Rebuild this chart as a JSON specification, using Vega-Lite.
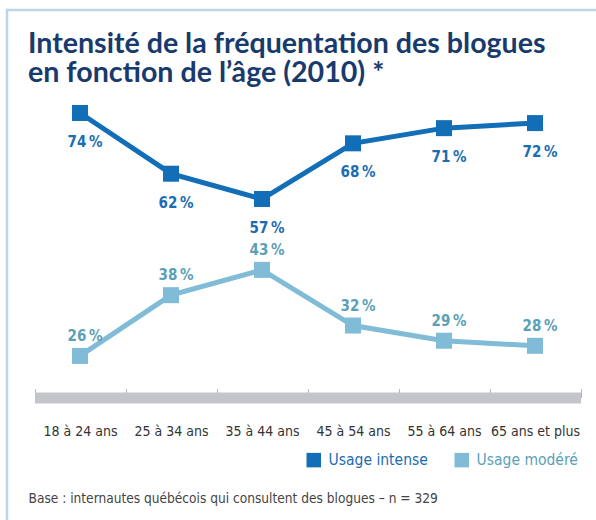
{
  "$schema": "https://vega.github.io/schema/vega-lite/v6.json",
  "autosize": {"type": "none"},
  "padding": {"left": 7, "top": 10, "right": 0, "bottom": 0},
  "width": 600,
  "height": 540,
  "background": "white",
  "config": {
    "view": {"stroke": "#bcd5e7", "strokeWidth": 2.5},
    "font": "DejaVu Sans Condensed, Roboto, sans-serif"
  },
  "title": {
    "text": ["Intensité de la fréquentation des blogues", "en fonction de l’âge (2010) *"],
    "anchor": "start",
    "frame": "group",
    "orient": "top",
    "offset": 0,
    "baseline": "alphabetic",
    "dx": 21,
    "dy": 101,
    "lineHeight": 29,
    "font": "Lato",
    "fontSize": 28.6,
    "fontWeight": "bold",
    "color": "#183a6c"
  },
  "data": {
    "values": [
      {"age": "18 à 24 ans", "serie": "Usage intense", "v": 74},
      {"age": "25 à 34 ans", "serie": "Usage intense", "v": 62},
      {"age": "35 à 44 ans", "serie": "Usage intense", "v": 57},
      {"age": "45 à 54 ans", "serie": "Usage intense", "v": 68},
      {"age": "55 à 64 ans", "serie": "Usage intense", "v": 71},
      {"age": "65 ans et plus", "serie": "Usage intense", "v": 72},
      {"age": "18 à 24 ans", "serie": "Usage modéré", "v": 26},
      {"age": "25 à 34 ans", "serie": "Usage modéré", "v": 38},
      {"age": "35 à 44 ans", "serie": "Usage modéré", "v": 43},
      {"age": "45 à 54 ans", "serie": "Usage modéré", "v": 32},
      {"age": "55 à 64 ans", "serie": "Usage modéré", "v": 29},
      {"age": "65 ans et plus", "serie": "Usage modéré", "v": 28}
    ]
  },
  "transform": [{"calculate": "datum.v + '\u202f%'", "as": "label"}],
  "encoding": {
    "x": {
      "field": "age",
      "type": "nominal",
      "sort": null,
      "bandPosition": 0.5,
      "scale": {"type": "band", "range": [27.5, 573.5], "paddingInner": 0, "paddingOuter": 0},
      "axis": {
        "offset": -152.5,
        "labelAngle": 0,
        "labelFont": "DejaVu Sans Condensed, Roboto, sans-serif",
        "labelFontSize": 14,
        "labelColor": "#333333",
        "labelPadding": 36,
        "labelOverlap": false,
        "labelBound": false,
        "domainWidth": 11,
        "domainColor": "#c4c5c8",
        "domainCap": "butt",
        "tickSize": -9,
        "tickWidth": 1,
        "tickColor": "#b5b5b8",
        "tickBand": "extent",
        "title": "Base : internautes québécois qui consultent des blogues – n = 329",
        "titleFont": "DejaVu Sans Condensed, Roboto, sans-serif",
        "titleFontSize": 13.6,
        "titleFontWeight": "normal",
        "titleColor": "#444444",
        "titleAnchor": "start",
        "titleAlign": "left",
        "titleBaseline": "alphabetic",
        "titleX": 21,
        "titleY": 104.5
      }
    },
    "y": {
      "field": "v",
      "type": "quantitative",
      "scale": {"domain": [18, 80], "range": [386.4, 72.6], "zero": false, "nice": false},
      "axis": null
    },
    "color": {
      "field": "serie",
      "type": "nominal",
      "scale": {"domain": ["Usage intense", "Usage modéré"], "range": ["#116eb7", "#80bbd7"]},
      "legend": {
        "title": null,
        "orient": "none",
        "direction": "horizontal",
        "legendX": 299,
        "legendY": 442,
        "padding": 0,
        "symbolType": "square",
        "symbolSize": 210,
        "symbolStrokeWidth": 0,
        "labelFont": "DejaVu Sans Condensed, Roboto, sans-serif",
        "labelFontSize": 15.5,
        "labelOffset": 7,
        "columnPadding": 26,
        "labelLimit": 200,
        "encode": {
          "symbols": {"update": {
            "fill": {"signal": "datum.value === 'Usage intense' ? '#116eb7' : '#80bbd7'"},
            "fillOpacity": {"value": 1},
            "strokeWidth": {"value": 0}
          }},
          "labels": {"update": {"fill": {"signal": "datum.value === 'Usage intense' ? '#1b6db3' : '#5b9fb8'"}}}
        }
      }
    }
  },
  "layer": [
    {
      "mark": {"type": "line", "strokeWidth": 5}
    },
    {
      "mark": {"type": "point", "shape": "square", "filled": true, "opacity": 1, "size": 256}
    },
    {
      "transform": [{"filter": "datum.serie === 'Usage intense'"}],
      "mark": {"type": "text", "dy": 29, "dx": 5, "font": "DejaVu Sans Condensed, Roboto, sans-serif", "fontSize": 15, "fontWeight": "bold"},
      "encoding": {"text": {"field": "label"}, "color": {"value": "#1b6db3"}}
    },
    {
      "transform": [{"filter": "datum.serie === 'Usage modéré'"}],
      "mark": {"type": "text", "dy": -20, "dx": 5, "font": "DejaVu Sans Condensed, Roboto, sans-serif", "fontSize": 15, "fontWeight": "bold"},
      "encoding": {"text": {"field": "label"}, "color": {"value": "#5b9fb8"}}
    }
  ]
}
